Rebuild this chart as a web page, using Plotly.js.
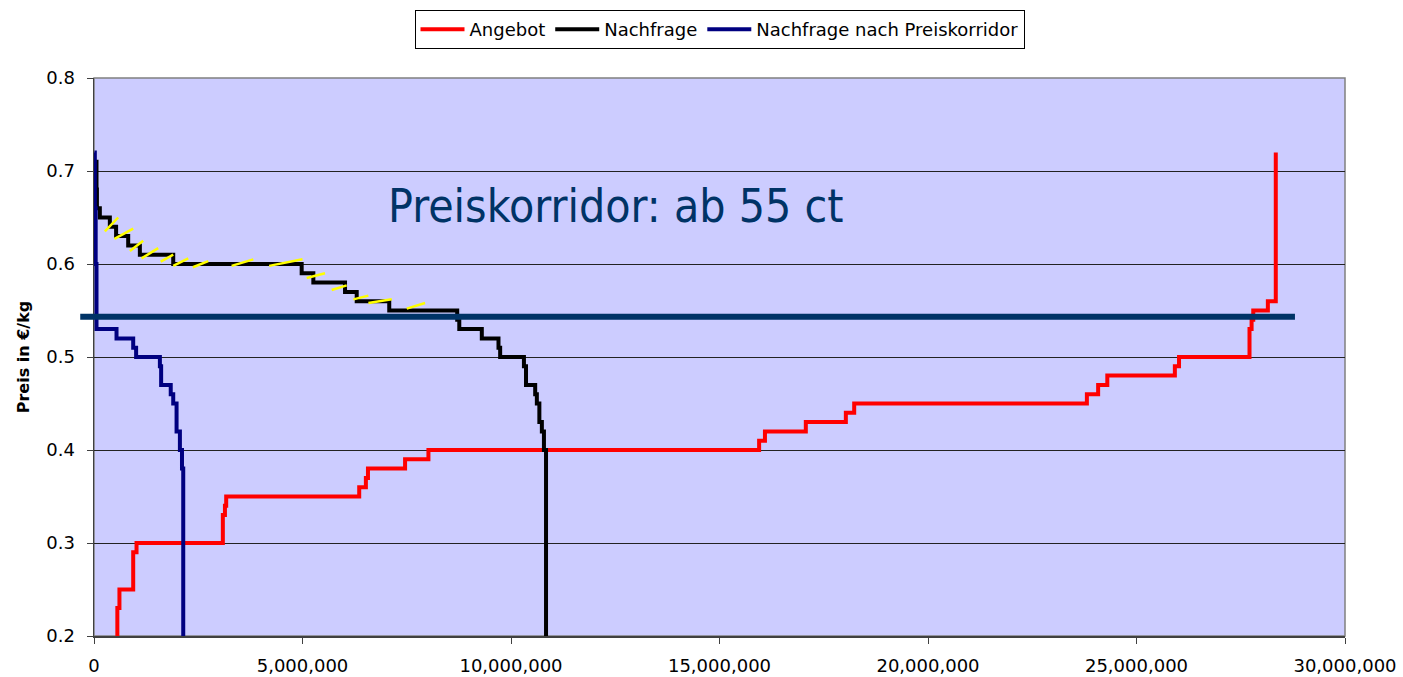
<!DOCTYPE html>
<html>
<head>
<meta charset="utf-8">
<script src="https://cdn.plot.ly/plotly-3.0.1.min.js"></script>
<style>html,body{margin:0;padding:0;background:#fff;}#chart{width:1403px;height:677px;}</style>
</head>
<body>
<div id="chart"></div>
<script>
// Angebot (supply) step points: quantity (kg) at which price level begins, price level (€/kg)
const angebotX = [560000, 560000, 610000, 940000, 1020000, 3090000, 3140000, 3170000, 6360000, 6520000, 6570000, 7460000, 8020000, 15950000, 16090000, 17070000, 18030000, 18230000, 23810000, 24080000, 24300000, 25920000, 26020000, 27710000, 27760000, 27800000, 28150000, 28340000];
const angebotY = [0.20, 0.23, 0.25, 0.29, 0.30, 0.33, 0.34, 0.35, 0.36, 0.37, 0.38, 0.39, 0.40, 0.41, 0.42, 0.43, 0.44, 0.45, 0.46, 0.47, 0.48, 0.49, 0.50, 0.53, 0.54, 0.55, 0.56, 0.72];

// Nachfrage (demand)
const nachfrageX = [50000, 60000, 70000, 140000, 380000, 530000, 820000, 1100000, 1900000, 4980000, 5260000, 6020000, 6300000, 7080000, 8710000, 8760000, 9300000, 9700000, 9740000, 10310000, 10360000, 10580000, 10620000, 10680000, 10740000, 10790000, 10840000];
const nachfrageY = [0.71, 0.68, 0.66, 0.65, 0.64, 0.63, 0.62, 0.61, 0.60, 0.59, 0.58, 0.57, 0.56, 0.55, 0.54, 0.53, 0.52, 0.51, 0.50, 0.49, 0.47, 0.46, 0.45, 0.43, 0.42, 0.40, 0.20];

// Nachfrage nach Preiskorridor
const korridorX = [10000, 20000, 40000, 60000, 540000, 940000, 1010000, 1580000, 1610000, 1840000, 1900000, 1980000, 2060000, 2110000, 2140000];
const korridorY = [0.72, 0.66, 0.60, 0.53, 0.52, 0.51, 0.50, 0.49, 0.47, 0.46, 0.45, 0.42, 0.40, 0.38, 0.20];

// yellow hatch strokes along the demand curve (segments separated by null)
const hatchX = [260000, 580000, null, 490000, 940000, null, 860000, 1180000, null, 1140000, 1540000, null, 1600000, 1900000, null, 1900000, 2260000, null, 2370000, 2740000, null, 3300000, 3820000, null, 4200000, 5000000, null, 5100000, 5540000, null, 5700000, 6060000, null, 6220000, 6580000, null, 6580000, 7140000, null, 7500000, 7940000];
const hatchY = [0.635, 0.650, null, 0.627, 0.638, null, 0.614, 0.625, null, 0.606, 0.617, null, 0.6025, 0.610, null, 0.598, 0.606, null, 0.5965, 0.603, null, 0.598, 0.605, null, 0.598, 0.605, null, 0.585, 0.590, null, 0.572, 0.577, null, 0.562, 0.566, null, 0.558, 0.562, null, 0.552, 0.558];

// Preiskorridor level
const korridorPreis = 0.5433;
const korridorLabel = 'Preiskorridor: ab 55 ct';

const seriesNames = ['Angebot', 'Nachfrage', 'Nachfrage nach Preiskorridor'];

const FONT = 'DejaVu Sans, Verdana, sans-serif';

const traces = [
  {x: angebotX, y: angebotY, name: seriesNames[0], mode: 'lines', line: {color: '#FF0000', width: 4, shape: 'hv'}},
  {x: nachfrageX, y: nachfrageY, name: seriesNames[1], mode: 'lines', line: {color: '#000000', width: 4, shape: 'hv'}},
  {x: korridorX, y: korridorY, name: seriesNames[2], mode: 'lines', line: {color: '#000080', width: 4, shape: 'hv'}},
  {x: hatchX, y: hatchY, mode: 'lines', showlegend: false, hoverinfo: 'skip', connectgaps: false, line: {color: '#FFFF00', width: 2.5}}
];

const layout = {
  width: 1403, height: 677,
  margin: {l: 94, r: 58, t: 78, b: 41, pad: 0, autoexpand: false},
  paper_bgcolor: '#FFFFFF',
  plot_bgcolor: '#CCCCFF',
  font: {family: FONT, size: 18, color: '#000000'},
  showlegend: true,
  legend: {
    orientation: 'h', x: 0.5, xanchor: 'center', y: 1 + 68/558, yanchor: 'top',
    bordercolor: '#000000', borderwidth: 1, bgcolor: '#FFFFFF',
    font: {family: FONT, size: 18, color: '#000000'},
    itemwidth: 44, tracegroupgap: 0
  },
  xaxis: {
    range: [0, 30000000], dtick: 5000000, tick0: 0, tickformat: ',d',
    showgrid: false, zeroline: false,
    showline: true, linecolor: '#404040', linewidth: 1.5,
    ticks: 'outside', ticklen: 6, tickcolor: '#404040', tickwidth: 1,
    ticklabelstandoff: 7,
    tickfont: {family: FONT, size: 18, color: '#000000'}
  },
  yaxis: {
    range: [0.2, 0.8], dtick: 0.1, tick0: 0.2, tickformat: '.1f',
    showgrid: true, gridcolor: '#222222', gridwidth: 1, zeroline: false,
    showline: true, linecolor: '#404040', linewidth: 1.5,
    ticks: 'outside', ticklen: 6, tickcolor: '#404040', tickwidth: 1,
    ticklabelstandoff: 8,
    tickfont: {family: FONT, size: 18, color: '#000000'},
    title: {text: 'Preis in €/kg', font: {family: FONT, size: 16, color: '#000000', weight: 'bold'}, standoff: 12}
  },
  shapes: [
    {type: 'rect', xref: 'paper', yref: 'paper', x0: 0, x1: 1, y0: 0, y1: 1, line: {color: '#808080', width: 1.5}, layer: 'below'},
    {type: 'line', xref: 'paper', yref: 'y', x0: -0.011, x1: 0.96, y0: korridorPreis, y1: korridorPreis, line: {color: '#003366', width: 6}, layer: 'above'}
  ],
  annotations: [
    {text: korridorLabel, xref: 'paper', yref: 'paper', x: 0.4165, y: (636-206)/558, xanchor: 'center', yanchor: 'middle', showarrow: false,
     font: {family: 'DejaVu Sans Condensed, DejaVu Sans, sans-serif', size: 46, color: '#003366'}}
  ]
};

Plotly.newPlot('chart', traces, layout, {displayModeBar: false, staticPlot: true});
</script>
</body>
</html>
